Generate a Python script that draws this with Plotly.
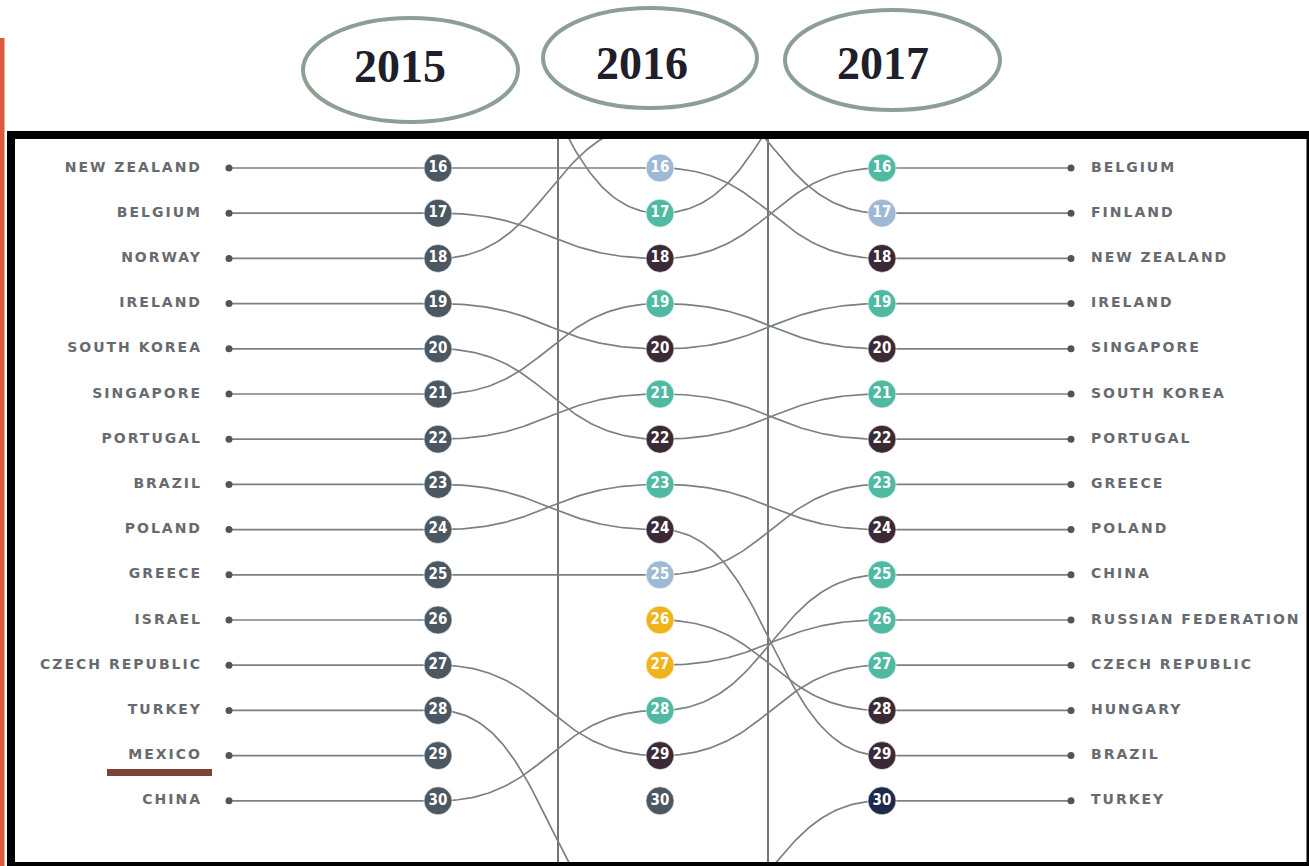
import numpy as np
import plotly.graph_objects as go

# ---------------- data ----------------
YEARS = [2015, 2016, 2017]
RANKS = list(range(16, 31))

COUNTRIES = ["NEW ZEALAND", "BELGIUM", "NORWAY", "IRELAND", "SOUTH KOREA", "SINGAPORE",
             "PORTUGAL", "BRAZIL", "POLAND", "GREECE", "ISRAEL", "CZECH REPUBLIC",
             "TURKEY", "MEXICO", "CHINA", "FINLAND", "HUNGARY", "RUSSIAN FEDERATION",
             "UNLABELLED A", "UNLABELLED B"]
RANK_2015 = [16, 17, 18, 19, 20, 21, 22, 23, 24, 25, 26, 27, 28, 29, 30, None, None, None, 12, None]
RANK_2016 = [16, 18, 15, 20, 22, 19, 21, 24, 23, 25, None, 29, 33, None, 28, 14, 26, 27, 17, 30]
RANK_2017 = [18, 16, None, 19, 21, 20, 22, 29, 24, 23, None, 27, 30, None, 25, 17, 28, 26, 13, None]

# circle status per rank 16..30 for each year
STATUS_2015 = ["base"] * 15
STATUS_2016 = ["same", "up", "down", "up", "down", "up", "down", "up", "down", "same",
               "new", "new", "up", "down", "base"]
STATUS_2017 = ["up", "same", "down", "up", "down", "up", "down", "up", "down", "up",
               "up", "up", "down", "down", "last"]

STATUS_COLORS = {"base": "#4b5761", "up": "#4fb9a2", "down": "#3b2a35", "same": "#9eb9d3",
                 "new": "#f0b31b", "last": "#1d2a4b"}

# ---------------- geometry constants ----------------
W, H = 1309, 866
X0_PX, DX_PX = 438, 222          # pixel x of 2015 column and column spacing
Y0_PX, DY_PX = 168, 45.2         # pixel y of rank 16 and rank spacing
PLOT_L, PLOT_R, PLOT_T, PLOT_B = 15, 1307, 139, 862

def x_at(px):
    return YEARS[0] + (px - X0_PX) / DX_PX

def r_at(py):
    return RANKS[0] + (py - Y0_PX) / DY_PX

LEFT_DOT = x_at(229)
LEFT_LABEL = x_at(202)
RIGHT_DOT = x_at(1071)
RIGHT_LABEL = x_at(1091)

LINE_COLOR = "#7b8085"

fig = go.Figure()

# ---------------- connector curves ----------------
t = np.linspace(0, 1, 80)
bx = 1.5 * t * (1 - t) + t ** 3
by = 3 * t ** 2 - 2 * t ** 3
lx, ly = [], []
ranks_by_year = [RANK_2015, RANK_2016, RANK_2017]
for i in range(len(COUNTRIES)):
    for k in range(len(YEARS) - 1):
        a, b = ranks_by_year[k][i], ranks_by_year[k + 1][i]
        if a is None or b is None:
            continue
        xa, xb = YEARS[k], YEARS[k + 1]
        lx += list(xa + (xb - xa) * bx) + [None]
        ly += list(a + (b - a) * by) + [None]
    r15 = RANK_2015[i]
    if r15 is not None and RANKS[0] <= r15 <= RANKS[-1]:
        lx += [LEFT_DOT, YEARS[0], None]
        ly += [r15, r15, None]
    r17 = RANK_2017[i]
    if r17 is not None and RANKS[0] <= r17 <= RANKS[-1]:
        lx += [YEARS[-1], RIGHT_DOT, None]
        ly += [r17, r17, None]

fig.add_trace(go.Scatter(x=lx, y=ly, mode="lines", line=dict(color=LINE_COLOR, width=1.7),
                         hoverinfo="skip"))

# ---------------- end dots and labels ----------------
left_idx = [i for i, r in enumerate(RANK_2015) if r is not None and RANKS[0] <= r <= RANKS[-1]]
right_idx = [i for i, r in enumerate(RANK_2017) if r is not None and RANKS[0] <= r <= RANKS[-1]]

fig.add_trace(go.Scatter(x=[LEFT_DOT] * len(left_idx), y=[RANK_2015[i] for i in left_idx],
                         mode="markers", marker=dict(size=7, color="#50555b")))
fig.add_trace(go.Scatter(x=[RIGHT_DOT] * len(right_idx), y=[RANK_2017[i] for i in right_idx],
                         mode="markers", marker=dict(size=7, color="#50555b")))

label_font = dict(family="DejaVu Sans", size=14, color="#676b70", weight="bold")
fig.add_trace(go.Scatter(x=[LEFT_LABEL] * len(left_idx), y=[RANK_2015[i] for i in left_idx],
                         mode="text", text=[COUNTRIES[i] for i in left_idx],
                         textposition="middle left", textfont=label_font))
fig.add_trace(go.Scatter(x=[RIGHT_LABEL] * len(right_idx), y=[RANK_2017[i] for i in right_idx],
                         mode="text", text=[COUNTRIES[i] for i in right_idx],
                         textposition="middle right", textfont=label_font))

# ---------------- rank circles ----------------
for yr, status in zip(YEARS, [STATUS_2015, STATUS_2016, STATUS_2017]):
    fig.add_trace(go.Scatter(
        x=[yr] * len(RANKS), y=RANKS, mode="markers+text",
        text=[str(r) for r in RANKS], textposition="middle center",
        marker=dict(size=28, color=[STATUS_COLORS[s] for s in status],
                    line=dict(width=1, color="rgba(255,255,255,0.6)")),
        textfont=dict(family="DejaVu Sans Condensed, DejaVu Sans", size=15, color="white",
                      weight="bold"),
        cliponaxis=False))

# ---------------- layout / decorations ----------------
def px_x(px):
    return px / W

def px_y(py):
    return 1 - py / H

shapes = []
# column separator lines
for xpx in [558, 768]:
    shapes.append(dict(type="line", xref="x", yref="paper", x0=x_at(xpx), x1=x_at(xpx),
                       y0=px_y(PLOT_B), y1=px_y(PLOT_T), line=dict(color="#4d535a", width=1.6),
                       layer="below"))
# frame
frame = [(7, 131, 1309, 139), (7, 131, 15, 866), (7, 862, 1309, 866), (1306.5, 131, 1309, 866)]
for x0, y0, x1, y1 in frame:
    shapes.append(dict(type="rect", xref="paper", yref="paper", x0=px_x(x0), x1=px_x(x1),
                       y0=px_y(y1), y1=px_y(y0), fillcolor="black", line=dict(width=0)))
# left accent bar
shapes.append(dict(type="rect", xref="paper", yref="paper", x0=0, x1=px_x(4.5),
                   y0=0, y1=px_y(38), fillcolor="#d95a40", line=dict(width=0)))
# underline under MEXICO
shapes.append(dict(type="rect", xref="paper", yref="paper", x0=px_x(107), x1=px_x(212),
                   y0=px_y(776), y1=px_y(769), fillcolor="#7c4137", line=dict(width=0)))
# year ellipses
ELLIPSES = [(303, 18, 518, 122), (543, 8, 757, 108), (785, 10, 1000, 110)]
for x0, y0, x1, y1 in ELLIPSES:
    shapes.append(dict(type="circle", xref="paper", yref="paper", x0=px_x(x0), x1=px_x(x1),
                       y0=px_y(y1), y1=px_y(y0), line=dict(color="#8c9f92", width=4)))

YEAR_TEXT_POS = [(400, 67), (642, 64), (883, 64)]
annotations = []
for yr, (xp, yp) in zip(YEARS, YEAR_TEXT_POS):
    annotations.append(dict(text=str(yr), xref="paper", yref="paper", x=px_x(xp), y=px_y(yp),
                            xanchor="center", yanchor="middle", showarrow=False,
                            font=dict(family="Liberation Serif", size=46, color="#1f1f2b",
                                      weight="bold")))

fig.update_layout(
    width=W, height=H, autosize=False, showlegend=False,
    margin=dict(l=0, r=0, t=0, b=0),
    paper_bgcolor="white", plot_bgcolor="white",
    xaxis=dict(domain=[px_x(PLOT_L), px_x(PLOT_R)], range=[x_at(PLOT_L), x_at(PLOT_R)],
               visible=False, fixedrange=True),
    yaxis=dict(domain=[px_y(PLOT_B), px_y(PLOT_T)], range=[r_at(PLOT_B), r_at(PLOT_T)],
               visible=False, fixedrange=True),
    shapes=shapes, annotations=annotations,
)

post = """
document.body.style.margin = '0';
document.body.style.overflow = 'hidden';
var gd = document.getElementById('{plot_id}');
function spaceLabels(){
  gd.querySelectorAll('g.textpoint text').forEach(function(t){
    if (/[A-Z]/.test(t.textContent)) { t.style.letterSpacing = '2px'; }
  });
}
spaceLabels();
gd.on('plotly_afterplot', spaceLabels);
"""
fig.write_html("out.html", post_script=post, config={"displayModeBar": False})
